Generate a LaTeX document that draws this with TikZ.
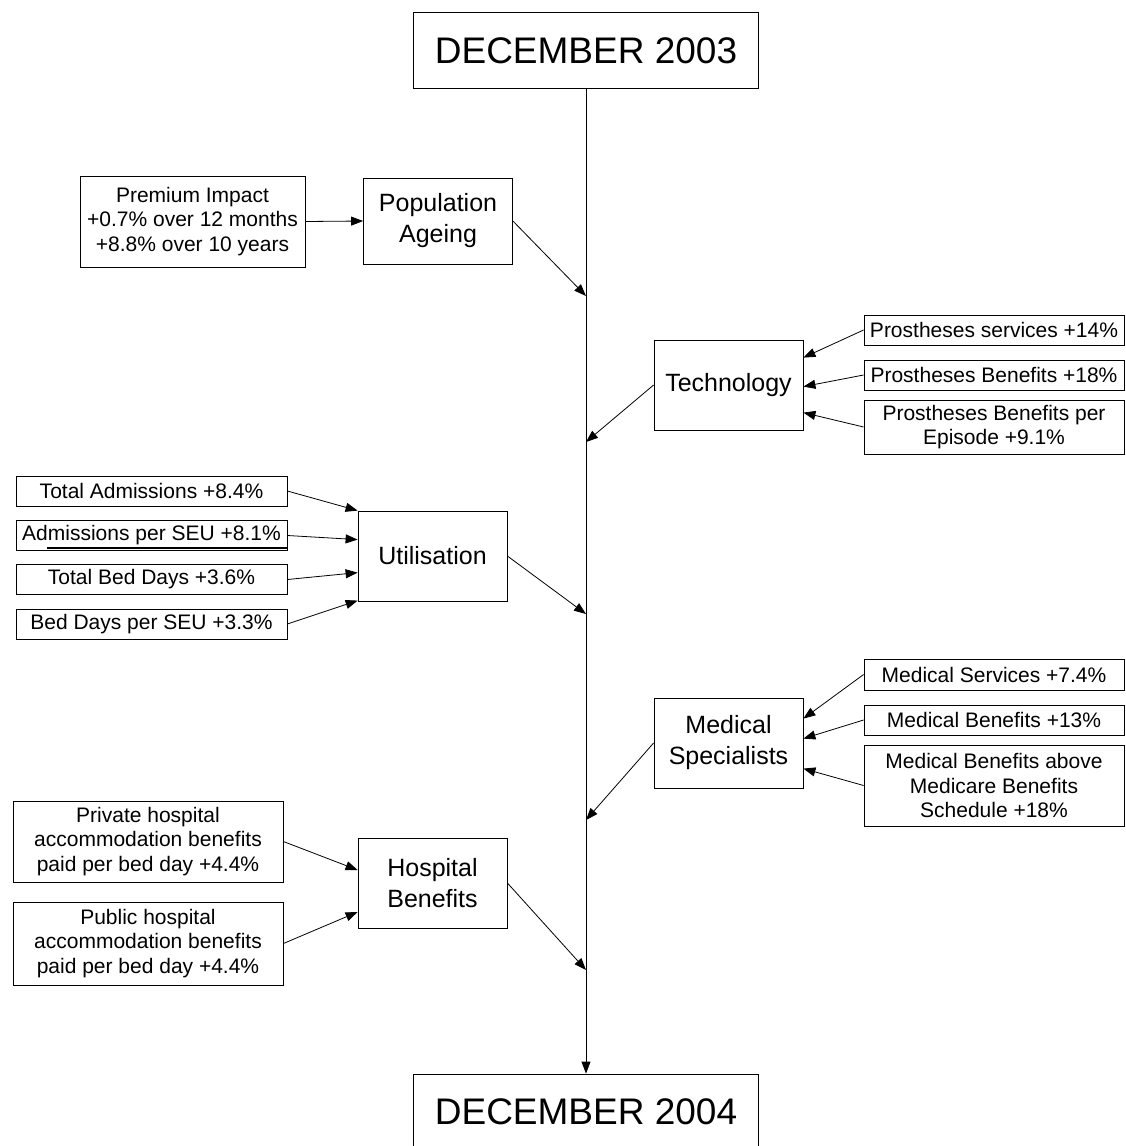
\documentclass[tikz,border=0pt]{standalone}
\usepackage{fontspec}
\setmainfont{Liberation Sans}
\usetikzlibrary{arrows.meta}

\begin{document}
\begin{tikzpicture}[>={Triangle[length=12pt,width=9pt]}, x=1pt, y=-1pt,
    every node/.style={draw, line width=0.8pt, align=center, inner sep=2pt},
    datebox/.style={minimum width=345pt, minimum height=76pt,
      font=\fontsize{37}{42}\selectfont},
    factorbox/.style={minimum width=149pt, minimum height=90pt,
      font=\fontsize{25}{31}\selectfont},
    itembox/.style={minimum width=#1, font=\fontsize{21}{24.5}\selectfont},
    link/.style={->, line width=0.8pt}]
    \useasboundingbox (0,0) rectangle (1125,1146);
    \clip (0,0) rectangle (1125,1146);

    % time line
    \node[datebox] (dec03) at (586,50.5) {DECEMBER 2003};
    \node[datebox] (dec04) at (586,1112) {DECEMBER 2004};
    \draw[link] (dec03.south) -- (dec04.north);
    \coordinate (tPop) at (586,296);
    \coordinate (tTech) at (586,442);
    \coordinate (tUtil) at (586,614);
    \coordinate (tMed) at (586,820);
    \coordinate (tHosp) at (586,970);

    % population ageing
    \node[factorbox, minimum height=86pt] (pop) at (438,221) {Population\\Ageing};
    \node[itembox=225pt, minimum height=91pt] (premium) at (192.5,221.5)
      {Premium Impact\\+0.7\% over 12 months\\+8.8\% over 10 years};
    \draw[link] (premium.east) -- (pop.west);
    \draw[link] (pop.east) -- (tPop);

    % technology
    \node[factorbox] (tech) at (728.5,385) {Technology};
    \node[itembox=260pt, minimum height=30pt] (pros1) at (994,330)
      {Prostheses services +14\%};
    \node[itembox=260pt, minimum height=30pt] (pros2) at (994,375)
      {Prostheses Benefits +18\%};
    \node[itembox=260pt, minimum height=54pt] (pros3) at (994,427)
      {Prostheses Benefits per\\Episode +9.1\%};
    \draw[link] (pros1.west) -- ([yshift=-18pt]tech.north east);
    \draw[link] (pros2.west) -- ([yshift=-47pt]tech.north east);
    \draw[link] (pros3.west) -- ([yshift=-73pt]tech.north east);
    \draw[link] (tech.west) -- (tTech);

    % utilisation
    \node[factorbox] (util) at (432.5,556) {Utilisation};
    \foreach \n/\y/\t/\s in {ua/491/Total Admissions +8.4\%/0,
        ub/535.5/Admissions per SEU +8.1\%/-29,
        uc/579.5/Total Bed Days +3.6\%/-62,
        ud/624/Bed Days per SEU +3.3\%/-90} {
      \node[itembox=271pt, minimum height=30pt] (\n) at (151.5,\y) {\t};
      \draw[link] (\n.east) -- ([yshift=\s pt]util.north west);
    }
    \draw[line width=1.5pt] ([shift={(31pt,3pt)}]ub.south west) --
      ([yshift=3pt]ub.south east);
    \draw[link] (util.east) -- (tUtil);

    % medical specialists
    \node[factorbox] (med) at (728.5,743) {Medical\\Specialists};
    \node[itembox=260pt, minimum height=31pt] (med1) at (994,674.5)
      {Medical Services +7.4\%};
    \node[itembox=260pt, minimum height=30pt] (med2) at (994,720)
      {Medical Benefits +13\%};
    \node[itembox=260pt, minimum height=81pt] (med3) at (994,785.5)
      {Medical Benefits above\\Medicare Benefits\\Schedule +18\%};
    \draw[link] (med1.west) -- ([yshift=-21pt]med.north east);
    \draw[link] (med2.west) -- ([yshift=-41pt]med.north east);
    \draw[link] (med3.west) -- ([yshift=-71pt]med.north east);
    \draw[link] (med.west) -- (tMed);

    % hospital benefits
    \node[factorbox] (hosp) at (432.5,883) {Hospital\\Benefits};
    \node[itembox=270pt, minimum height=81pt] (priv) at (148,841.5)
      {Private hospital\\accommodation benefits\\paid per bed day +4.4\%};
    \node[itembox=270pt, minimum height=83pt] (pub) at (148,943.5)
      {Public hospital\\accommodation benefits\\paid per bed day +4.4\%};
    \draw[link] (priv.east) -- ([yshift=13pt]hosp.west);
    \draw[link] (pub.east) -- ([yshift=-29pt]hosp.west);
    \draw[link] (hosp.east) -- (tHosp);
\end{tikzpicture}
\end{document}
